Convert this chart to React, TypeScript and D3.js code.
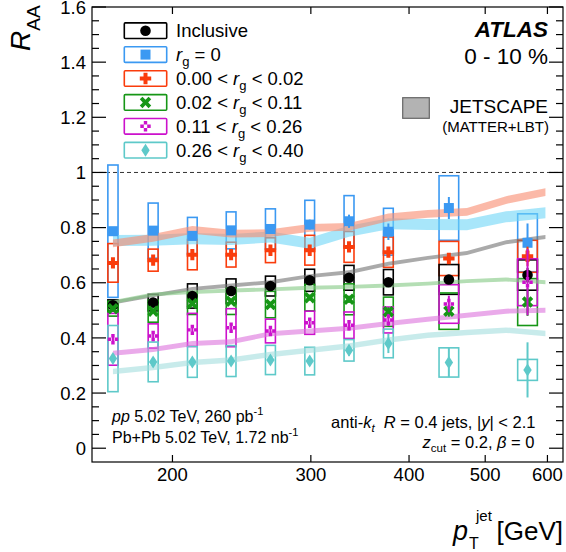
import React from 'react';
import * as d3 from 'd3';

// ---------- data ----------
const binEdges = [158, 178, 200, 224, 251, 282, 316, 355, 398, 501, 631];
const theoryPt = [168, 189, 212, 237.5, 266.5, 299, 335.5, 376.5, 422.5, 474, 531.5, 596.5];

const xTickValues = [200, 300, 400, 500, 600];
const xTickLabels = ['200', '300', '400', '500', '600'];
const yTickValues = [0, 0.2, 0.4, 0.6, 0.8, 1.0, 1.2, 1.4, 1.6];
const yTickLabels = ['0', '0.2', '0.4', '0.6', '0.8', '1', '1.2', '1.4', '1.6'];

const inclusiveVal = [0.518, 0.528, 0.552, 0.570, 0.588, 0.609, 0.618, 0.602, 0.612, 0.628];
const inclusiveSys = [0.02, 0.03, 0.044, 0.044, 0.036, 0.04, 0.045, 0.046, 0.054, 0.055];
const inclusiveStat = [0.005, 0.005, 0.006, 0.007, 0.008, 0.009, 0.01, 0.012, 0.015, 0.025];
const inclusiveTheory = [0.528, 0.554, 0.578, 0.590, 0.602, 0.624, 0.638, 0.669, 0.690, 0.708, 0.747, 0.766];

const rg0Val = [0.787, 0.789, 0.770, 0.790, 0.795, 0.811, 0.823, 0.785, 0.871, 0.745];
const rg0Sys = [0.24, 0.10, 0.067, 0.067, 0.073, 0.088, 0.093, 0.085, 0.117, 0.105];
const rg0Stat = [0.01, 0.01, 0.012, 0.012, 0.015, 0.018, 0.024, 0.03, 0.04, 0.07];
const rg0Theory = [0.753, 0.754, 0.760, 0.757, 0.766, 0.743, 0.787, 0.814, 0.811, 0.810, 0.839, 0.854];

const rg1Val = [0.672, 0.682, 0.702, 0.702, 0.718, 0.718, 0.730, 0.711, 0.688, 0.696];
const rg1Sys = [0.07, 0.04, 0.055, 0.045, 0.045, 0.054, 0.056, 0.055, 0.062, 0.058];
const rg1Stat = [0.008, 0.008, 0.01, 0.01, 0.012, 0.013, 0.015, 0.018, 0.02, 0.035];
const rg1Theory = [0.743, 0.763, 0.792, 0.778, 0.780, 0.799, 0.803, 0.837, 0.850, 0.857, 0.900, 0.929];

const rg2Val = [0.506, 0.497, 0.525, 0.533, 0.521, 0.546, 0.540, 0.495, 0.497, 0.530];
const rg2Sys = [0.027, 0.04, 0.04, 0.048, 0.048, 0.048, 0.056, 0.053, 0.066, 0.085];
const rg2Stat = [0.006, 0.007, 0.008, 0.009, 0.01, 0.011, 0.013, 0.016, 0.02, 0.05];
const rg2Theory = [0.530, 0.558, 0.566, 0.572, 0.576, 0.582, 0.585, 0.590, 0.597, 0.606, 0.612, 0.602];

const rg3Val = [0.395, 0.407, 0.429, 0.437, 0.425, 0.455, 0.446, 0.465, 0.523, 0.602];
const rg3Sys = [0.094, 0.044, 0.06, 0.069, 0.043, 0.042, 0.048, 0.047, 0.07, 0.085];
const rg3Stat = [0.01, 0.01, 0.012, 0.013, 0.014, 0.016, 0.018, 0.022, 0.03, 0.12];
const rg3Theory = [0.344, 0.358, 0.380, 0.386, 0.415, 0.425, 0.435, 0.452, 0.468, 0.482, 0.497, 0.500];

const rg4Val = [0.325, 0.313, 0.313, 0.316, 0.320, 0.316, 0.355, 0.380, 0.311, 0.284];
const rg4Sys = [0.12, 0.072, 0.056, 0.056, 0.053, 0.05, 0.039, 0.052, 0.053, 0.038];
const rg4Stat = [0.01, 0.01, 0.012, 0.012, 0.014, 0.015, 0.02, 0.035, 0.053, 0.1];
const rg4Theory = [0.278, 0.293, 0.311, 0.320, 0.340, 0.355, 0.371, 0.392, 0.410, 0.420, 0.428, 0.416];

// ---------- styles ----------
type Marker = 'circle' | 'square' | 'plus' | 'cross' | 'openplus' | 'diamond';
interface Series {
  key: string; color: string; marker: Marker; val: number[]; sys: number[]; stat: number[];
  theory: number[]; bandColor: string; bandHalf: number;
}
const series: Series[] = [
  { key: 'incl', color: '#000000', marker: 'circle', val: inclusiveVal, sys: inclusiveSys, stat: inclusiveStat, theory: inclusiveTheory, bandColor: '#717171', bandHalf: 0.007 },
  { key: 'rg0', color: '#3b99f2', marker: 'square', val: rg0Val, sys: rg0Sys, stat: rg0Stat, theory: rg0Theory, bandColor: '#6ed5f7', bandHalf: 0.02 },
  { key: 'rg1', color: '#fa3c0c', marker: 'plus', val: rg1Val, sys: rg1Sys, stat: rg1Stat, theory: rg1Theory, bandColor: '#f88a6e', bandHalf: 0.014 },
  { key: 'rg2', color: '#169616', marker: 'cross', val: rg2Val, sys: rg2Sys, stat: rg2Stat, theory: rg2Theory, bandColor: '#82c882', bandHalf: 0.007 },
  { key: 'rg3', color: '#cc11cc', marker: 'openplus', val: rg3Val, sys: rg3Sys, stat: rg3Stat, theory: rg3Theory, bandColor: '#dc71dc', bandHalf: 0.009 },
  { key: 'rg4', color: '#5ec9c9', marker: 'diamond', val: rg4Val, sys: rg4Sys, stat: rg4Stat, theory: rg4Theory, bandColor: '#a3dddd', bandHalf: 0.01 },
];

const FONT = "'Liberation Sans', Arial, Helvetica, sans-serif";
const PL = 92, PR = 563, PT = 7, PB = 462;

const xScale = d3.scaleLog().domain([158, 628]).range([PL, PR]);
const yScale = d3.scaleLinear().domain([-0.05, 1.6]).range([PB, PT]);

function MarkerShape({ type, cx, cy, color }: { type: Marker; cx: number; cy: number; color: string }) {
  switch (type) {
    case 'circle':
      return <circle cx={cx} cy={cy} r={5.3} fill={color} />;
    case 'square':
      return <rect x={cx - 5} y={cy - 5} width={10} height={10} fill={color} />;
    case 'plus': {
      const a = 2, l = 5.7;
      const d = `M${cx - a},${cy - l}h${2 * a}v${l - a}h${l - a}v${2 * a}h${-(l - a)}v${l - a}h${-2 * a}v${-(l - a)}h${-(l - a)}v${-2 * a}h${l - a}z`;
      return <path d={d} fill={color} />;
    }
    case 'cross': {
      const a = 1.9, l = 6.2;
      const d = `M${cx - a},${cy - l}h${2 * a}v${l - a}h${l - a}v${2 * a}h${-(l - a)}v${l - a}h${-2 * a}v${-(l - a)}h${-(l - a)}v${-2 * a}h${l - a}z`;
      return <path d={d} fill={color} transform={`rotate(45 ${cx} ${cy})`} />;
    }
    case 'openplus': {
      const a = 1.7, l = 5.2;
      const outer = `M${cx - a},${cy - l}h${2 * a}v${l - a}h${l - a}v${2 * a}h${-(l - a)}v${l - a}h${-2 * a}v${-(l - a)}h${-(l - a)}v${-2 * a}h${l - a}z`;
      const inner = `M${cx - a},${cy - a}v${2 * a}h${2 * a}v${-2 * a}z`;
      return <path d={outer + inner} fill={color} fillRule="evenodd" />;
    }
    case 'diamond':
      return <path d={`M${cx},${cy - 6.5}L${cx + 4.2},${cy}L${cx},${cy + 6.5}L${cx - 4.2},${cy}Z`} fill={color} />;
  }
  return null;
}

export default function App() {
  const bins = binEdges.slice(0, -1).map((lo, i) => {
    const hi = binEdges[i + 1];
    const c = (lo + hi) / 2;
    const pw = xScale(hi) - xScale(lo);
    return { cx: xScale(c), half: pw * 0.125 };
  });

  const area = (s: Series) =>
    d3.area<number>()
      .x((_, i) => xScale(theoryPt[i]))
      .y0((v) => yScale(v - s.bandHalf))
      .y1((v) => yScale(v + s.bandHalf))(s.theory) || '';

  const boxOrder = ['rg0', 'rg1', 'incl', 'rg2', 'rg3', 'rg4'];
  const markerOrder = ['incl', 'rg0', 'rg1', 'rg2', 'rg3', 'rg4'];
  const byKey = (k: string) => series.find((s) => s.key === k)!;

  const yMinor = d3.range(0, 33).map((i) => +(i * 0.05).toFixed(2));

  const legendRows = [
    { k: 'incl', label: <tspan>Inclusive</tspan> },
    { k: 'rg0', label: <><tspan fontStyle="italic">r</tspan><tspan fontSize={13} dy={5}>g</tspan><tspan dy={-5}>{' = 0'}</tspan></> },
    { k: 'rg1', label: <><tspan>{'0.00 < '}</tspan><tspan fontStyle="italic">r</tspan><tspan fontSize={13} dy={5}>g</tspan><tspan dy={-5}>{' < 0.02'}</tspan></> },
    { k: 'rg2', label: <><tspan>{'0.02 < '}</tspan><tspan fontStyle="italic">r</tspan><tspan fontSize={13} dy={5}>g</tspan><tspan dy={-5}>{' < 0.11'}</tspan></> },
    { k: 'rg3', label: <><tspan>{'0.11 < '}</tspan><tspan fontStyle="italic">r</tspan><tspan fontSize={13} dy={5}>g</tspan><tspan dy={-5}>{' < 0.26'}</tspan></> },
    { k: 'rg4', label: <><tspan>{'0.26 < '}</tspan><tspan fontStyle="italic">r</tspan><tspan fontSize={13} dy={5}>g</tspan><tspan dy={-5}>{' < 0.40'}</tspan></> },
  ];

  return (
    <svg width={566} height={552} style={{ position: 'absolute', left: 0, top: 0, background: '#fff' }}
      fontFamily={FONT}>
      <rect x={0} y={0} width={566} height={552} fill="#fff" />
      <line x1={PL} x2={PR} y1={yScale(1)} y2={yScale(1)} stroke="#333" strokeWidth={1} strokeDasharray="4 3" />

      {boxOrder.map((k) => {
        const s = byKey(k);
        return (
          <g key={'box' + k}>
            {s.val.map((v, i) => (
              <rect key={i} x={bins[i].cx - bins[i].half} width={bins[i].half * 2}
                y={yScale(v + s.sys[i])} height={yScale(v - s.sys[i]) - yScale(v + s.sys[i])}
                fill="none" stroke={s.color} strokeWidth={1.6} />
            ))}
          </g>
        );
      })}

      {series.map((s) => (
        <path key={'band' + s.key} d={area(s)} fill={s.bandColor} fillOpacity={0.6} stroke="none" />
      ))}

      {markerOrder.map((k) => {
        const s = byKey(k);
        return (
          <g key={'m' + k}>
            {s.val.map((v, i) => (
              <line key={'e' + i} x1={bins[i].cx} x2={bins[i].cx} y1={yScale(v - s.stat[i])} y2={yScale(v + s.stat[i])}
                stroke={s.color} strokeWidth={2} />
            ))}
            {s.val.map((v, i) => (
              <MarkerShape key={'p' + i} type={s.marker} cx={bins[i].cx} cy={yScale(v)} color={s.color} />
            ))}
          </g>
        );
      })}

      <rect x={PL} y={PT} width={PR - PL} height={PB - PT} fill="none" stroke="#000" strokeWidth={1.2} />

      {yMinor.map((v, i) => {
        const major = Math.abs(v / 0.2 - Math.round(v / 0.2)) < 1e-6;
        const len = major ? 14 : 7;
        const y = yScale(v);
        return (
          <g key={'yt' + i}>
            <line x1={PL} x2={PL + len} y1={y} y2={y} stroke="#000" strokeWidth={1.2} />
            <line x1={PR} x2={PR - len} y1={y} y2={y} stroke="#000" strokeWidth={1.2} />
          </g>
        );
      })}
      {yTickValues.map((v, i) => (
        <text key={'yl' + i} x={86} y={Math.max(yScale(v), 7.6)} dy="0.36em" textAnchor="end" fontSize={18.5}>{yTickLabels[i]}</text>
      ))}

      {xTickValues.map((v, i) => {
        const x = xScale(v);
        return (
          <g key={'xt' + i}>
            <line x1={x} x2={x} y1={PB} y2={PB - 7} stroke="#000" strokeWidth={1.2} />
            <line x1={x} x2={x} y1={PT} y2={PT + 7} stroke="#000" strokeWidth={1.2} />
            <text x={x} y={480.7} textAnchor="middle" fontSize={18.5}>{xTickLabels[i]}</text>
          </g>
        );
      })}

      <text transform="translate(30,51) rotate(-90)" fontSize={28} fontStyle="italic">R<tspan fontStyle="normal" fontSize={19} dy={10}>AA</tspan></text>
      <text x={453} y={540} fontSize={27} fontStyle="italic">p</text>
      <text x={476} y={521} fontSize={15}>jet</text>
      <text x={469} y={549} fontSize={16}>T</text>
      <text x={563} y={540} fontSize={26} textAnchor="end">[GeV]</text>

      {legendRows.map((r, i) => {
        const s = byKey(r.k);
        const cy = 30.7 + i * 23.9;
        return (
          <g key={'lg' + i}>
            <rect x={124.3} y={cy - 7.8} width={42.4} height={15.6} fill="#fff" stroke={s.color} strokeWidth={1.6} rx={1} />
            <MarkerShape type={s.marker} cx={145.5} cy={cy} color={s.color} />
            <text x={176} y={cy + 6.6} fontSize={18.5} style={{ whiteSpace: 'pre' }}>{r.label}</text>
          </g>
        );
      })}

      <text x={548} y={37} textAnchor="end" fontSize={22.5} fontWeight="bold" fontStyle="italic">ATLAS</text>
      <text x={548} y={63.5} textAnchor="end" fontSize={22.5} style={{ whiteSpace: 'pre' }}>0 - 10 %</text>

      <rect x={402.7} y={97.7} width={26.6} height={20.6} fill="#b3b3b3" stroke="#666" strokeWidth={1.2} />
      <text x={548} y={113.3} textAnchor="end" fontSize={19}>JETSCAPE</text>
      <text x={549} y={131.7} textAnchor="end" fontSize={15}>(MATTER+LBT)</text>

      <text x={112} y={421.7} fontSize={16} style={{ whiteSpace: 'pre' }}>
        <tspan fontStyle="italic">pp</tspan><tspan>{' 5.02 TeV, 260 pb'}</tspan><tspan fontSize={11} dy={-7}>-1</tspan>
      </text>
      <text x={112} y={442.7} fontSize={16} style={{ whiteSpace: 'pre' }}>
        <tspan>{'Pb+Pb 5.02 TeV, 1.72 nb'}</tspan><tspan fontSize={11} dy={-7}>-1</tspan>
      </text>

      <text x={535.5} y={427.5} textAnchor="end" fontSize={16.5} style={{ whiteSpace: 'pre' }}>
        <tspan>anti-</tspan><tspan fontStyle="italic">k</tspan><tspan fontStyle="italic" fontSize={11.5} dy={4}>t</tspan>
        <tspan dy={-4}>{'  '}</tspan><tspan fontStyle="italic">R</tspan><tspan>{' = 0.4 jets, |'}</tspan><tspan fontStyle="italic">y</tspan><tspan>{'| < 2.1'}</tspan>
      </text>
      <text x={534.5} y={448.3} textAnchor="end" fontSize={16.5} style={{ whiteSpace: 'pre' }}>
        <tspan fontStyle="italic">z</tspan><tspan fontSize={11.5} dy={4}>cut</tspan><tspan dy={-4}>{' = 0.2, '}</tspan><tspan fontStyle="italic">β</tspan><tspan>{' = 0'}</tspan>
      </text>
    </svg>
  );
}
